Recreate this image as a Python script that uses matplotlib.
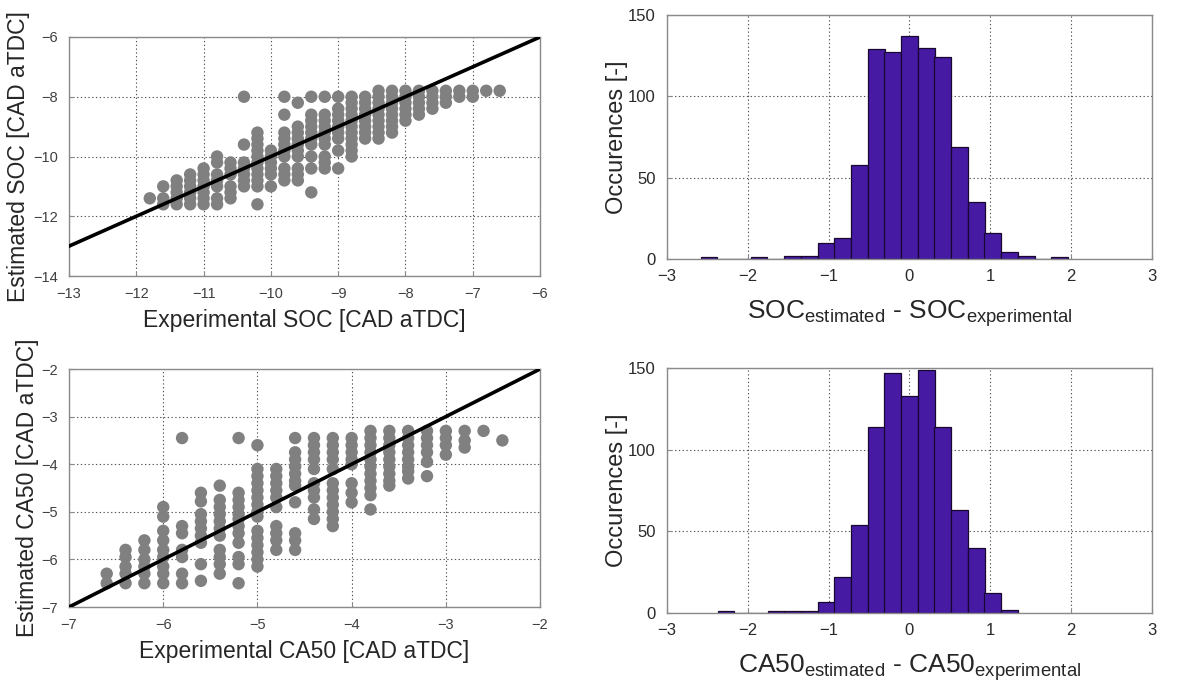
import matplotlib
matplotlib.use("Agg")
import matplotlib.pyplot as plt

plt.rcParams['font.family'] = ['Liberation Sans', 'DejaVu Sans']

# ---------------- data ----------------
# SOC scatter: experimental x -> list of estimated y values
soc_x = [-11.8, -11.6, -11.4, -11.2, -11.0, -10.8, -10.6, -10.4, -10.2, -10.0,
         -9.8, -9.6, -9.4, -9.2, -9.0, -8.8, -8.6, -8.4, -8.2, -8.0,
         -7.8, -7.6, -7.4, -7.2, -7.0, -6.8, -6.6]
soc_y = [
    [-11.4],
    [-11.0, -11.4, -11.6],
    [-10.8, -11.0, -11.2, -11.4, -11.6],
    [-10.6, -10.8, -11.0, -11.2, -11.4, -11.6],
    [-10.4, -10.6, -10.8, -11.0, -11.2, -11.4, -11.6],
    [-10.0, -10.2, -10.6, -10.8, -11.0, -11.4, -11.6],
    [-10.2, -10.4, -10.6, -11.0, -11.2, -11.4],
    [-8.0, -9.6, -10.2, -10.4, -10.6, -10.8, -11.0],
    [-9.2, -9.4, -9.6, -9.8, -10.0, -10.2, -10.4, -10.6, -10.8, -11.0, -11.6],
    [-9.8, -10.0, -10.2, -10.4, -10.6, -11.0],
    [-8.0, -8.6, -9.2, -9.4, -9.6, -9.8, -10.0, -10.4, -10.6, -10.8],
    [-8.2, -9.0, -9.2, -9.4, -9.6, -9.8, -10.0, -10.4, -10.6, -10.8],
    [-8.0, -8.6, -8.8, -9.0, -9.2, -9.4, -9.6, -10.0, -10.4, -11.2],
    [-8.0, -8.6, -8.8, -9.0, -9.2, -9.4, -9.6, -10.0, -10.2, -10.4],
    [-8.0, -8.4, -8.6, -8.8, -9.0, -9.2, -9.4, -9.8, -10.4],
    [-8.0, -8.2, -8.4, -8.6, -8.8, -9.0, -9.2, -9.4, -9.6, -9.8, -10.0],
    [-8.0, -8.2, -8.4, -8.6, -8.8, -9.0, -9.2, -9.4],
    [-7.8, -8.0, -8.2, -8.4, -8.6, -8.8, -9.0, -9.2, -9.4],
    [-7.8, -8.0, -8.2, -8.4, -8.6, -8.8, -9.0, -9.2],
    [-7.8, -8.0, -8.2, -8.4, -8.6, -8.8],
    [-7.8, -8.0, -8.2, -8.4, -8.6],
    [-7.8, -8.0, -8.2, -8.4],
    [-7.8, -8.0, -8.2],
    [-7.8, -8.0],
    [-7.8, -8.0],
    [-7.8],
    [-7.8],
]

# CA50 scatter
ca_x = [-6.6, -6.4, -6.2, -6.0, -5.8, -5.6, -5.4, -5.2, -5.0, -4.8, -4.6,
        -4.4, -4.2, -4.0, -3.8, -3.6, -3.4, -3.2, -3.0, -2.8, -2.6, -2.4]
ca_y = [
    [-6.3, -6.5],
    [-5.8, -5.95, -6.15, -6.3, -6.5],
    [-5.6, -5.8, -6.0, -6.15, -6.3, -6.5],
    [-4.9, -5.1, -5.4, -5.6, -5.8, -5.95, -6.15, -6.3, -6.5],
    [-3.45, -5.3, -5.45, -5.8, -5.95, -6.3, -6.5],
    [-4.6, -4.78, -5.05, -5.2, -5.35, -5.5, -5.65, -6.1, -6.45],
    [-4.45, -4.75, -4.9, -5.05, -5.2, -5.35, -5.5, -5.8, -5.95, -6.1, -6.3],
    [-3.45, -4.6, -4.75, -4.9, -5.05, -5.15, -5.3, -5.45, -5.65, -5.95, -6.1, -6.5],
    [-3.6, -4.1, -4.25, -4.4, -4.55, -4.7, -4.85, -5.0, -5.1, -5.4, -5.55,
     -5.7, -5.85, -6.0, -6.15],
    [-4.1, -4.25, -4.4, -4.55, -4.7, -4.9, -5.3, -5.45, -5.6, -5.8],
    [-3.45, -3.75, -3.9, -4.05, -4.2, -4.35, -4.45, -4.8, -5.45, -5.6, -5.8],
    [-3.45, -3.6, -3.75, -3.9, -4.1, -4.4, -4.55, -4.7, -4.95, -5.15],
    [-3.45, -3.6, -3.75, -3.9, -4.1, -4.4, -4.55, -4.7, -4.85, -5.0, -5.15, -5.3],
    [-3.45, -3.6, -3.75, -3.9, -4.0, -4.4, -4.6, -4.8],
    [-3.3, -3.45, -3.6, -3.75, -3.9, -4.05, -4.2, -4.35, -4.5, -4.65, -4.95],
    [-3.3, -3.45, -3.6, -3.75, -3.9, -4.05, -4.2, -4.35, -4.45],
    [-3.3, -3.45, -3.6, -3.75, -3.9, -4.05, -4.15, -4.3],
    [-3.3, -3.45, -3.6, -3.75, -3.95, -4.25],
    [-3.3, -3.45, -3.6, -3.8],
    [-3.3, -3.5, -3.65],
    [-3.3],
    [-3.5],
]

# histograms
bin_width = 0.2066
soc_bins = [-2.48, -2.27, -2.07, -1.86, -1.65, -1.45, -1.24, -1.03, -0.83, -0.62, -0.41,
            -0.21, 0.0, 0.21, 0.41, 0.62, 0.83, 1.03, 1.24, 1.45, 1.65, 1.86]
soc_counts = [1, 0, 0, 1, 0, 2, 2, 10, 13, 58, 129, 127, 137, 130, 124, 69, 35, 16, 4, 2, 0, 1]
ca_bins = [-2.27, -2.07, -1.86, -1.65, -1.45, -1.24, -1.03, -0.83, -0.62, -0.41,
           -0.21, 0.0, 0.21, 0.41, 0.62, 0.83, 1.03, 1.24]
ca_counts = [1, 0, 0, 1, 1, 1, 7, 22, 54, 114, 147, 133, 149, 114, 63, 40, 12, 2]

# ---------------- style ----------------
DOT = '#808080'
BAR = '#461aa3'
TICKC = '#404040'
LABC = '#262626'
GRIDC = '#555555'
SPINEC = '#8a8a8a'

fig = plt.figure(figsize=(11.82, 6.89), dpi=100)


def style(ax, size, color, xpad, ypad):
    ax.grid(True, linestyle=(0, (1.2, 2.2)), color=GRIDC, linewidth=0.8)
    ax.set_axisbelow(True)
    for s in ax.spines.values():
        s.set_color(SPINEC)
        s.set_linewidth(1.0)
    ax.tick_params(direction='in', length=3, color=SPINEC, labelcolor=color,
                   labelsize=size)
    ax.tick_params(axis='x', pad=xpad)
    ax.tick_params(axis='y', pad=ypad)


def scatter_panel(rect, xs, ys, lims, xticks, yticks, xlabel, ylabel):
    ax = fig.add_axes(rect)
    px, py = [], []
    for x, col in zip(xs, ys):
        for y in col:
            px.append(x)
            py.append(y)
    ax.scatter(px, py, s=80, color=DOT, edgecolors='none', zorder=2)
    ax.plot([lims[0][0], lims[0][1]], [lims[0][0], lims[0][1]], color='black',
            linewidth=2.6, zorder=3)
    ax.set_xlim(*lims[0])
    ax.set_ylim(*lims[1])
    ax.set_xticks(xticks)
    ax.set_yticks(yticks)
    style(ax, 10.5, TICKC, 8, 8)
    ax.set_xlabel(xlabel, fontsize=16.5, color=LABC, labelpad=6)
    ax.set_ylabel(ylabel, fontsize=16.5, color=LABC, labelpad=2)
    return ax


def hist_panel(rect, centers, counts, xlabel):
    ax = fig.add_axes(rect)
    ax.bar(centers, counts, width=bin_width, color=BAR, edgecolor='#180830',
           linewidth=0.9, zorder=2)
    ax.set_xlim(-3, 3)
    ax.set_ylim(0, 150)
    ax.set_xticks([-3, -2, -1, 0, 1, 2, 3])
    ax.set_yticks([0, 50, 100, 150])
    style(ax, 12, '#2a2a2a', 7, 8)
    ax.set_xlabel(xlabel, fontsize=19, color=LABC, labelpad=10)
    ax.set_ylabel('Occurences [-]', fontsize=17, color=LABC, labelpad=0)
    return ax


scatter_panel([0.0584, 0.5994, 0.3985, 0.3469], soc_x, soc_y,
              ((-13, -6), (-14, -6)), list(range(-13, -5)), [-14, -12, -10, -8, -6],
              'Experimental SOC [CAD aTDC]', 'Estimated SOC [CAD aTDC]')
scatter_panel([0.0584, 0.1190, 0.3985, 0.3454], ca_x, ca_y,
              ((-7, -2), (-7, -2)), list(range(-7, -1)), list(range(-7, -1)),
              'Experimental CA50 [CAD aTDC]', 'Estimated CA50 [CAD aTDC]')
hist_panel([0.5643, 0.6241, 0.4103, 0.3541], soc_bins, soc_counts,
           r'SOC$_{\mathregular{estimated}}$ - SOC$_{\mathregular{experimental}}$')
hist_panel([0.5643, 0.1103, 0.4103, 0.3556], ca_bins, ca_counts,
           r'CA50$_{\mathregular{estimated}}$ - CA50$_{\mathregular{experimental}}$')

fig.savefig('out.png', dpi=100)
